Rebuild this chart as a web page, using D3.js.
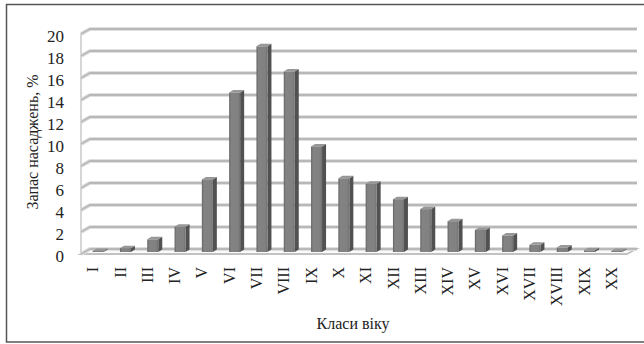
<!DOCTYPE html>
<html>
<head>
<meta charset="utf-8">
<script src="https://cdn.jsdelivr.net/npm/d3@7/dist/d3.min.js"></script>
<style>
  html, body { margin: 0; padding: 0; background: #fff; }
  svg { display: block; }
</style>
</head>
<body>
<svg id="chart" width="644" height="344"></svg>
<script>
// Age classes and share of growing stock (%)
const classes = ["I","II","III","IV","V","VI","VII","VIII","IX","X",
                 "XI","XII","XIII","XIV","XV","XVI","XVII","XVIII","XIX","XX"];
const stock = [0.1, 0.35, 1.15, 2.3, 6.6, 14.5, 18.7, 16.4, 9.6, 6.7,
               6.2, 4.8, 3.9, 2.8, 2.0, 1.5, 0.65, 0.4, 0.15, 0.1];
const yTicks = [0, 2, 4, 6, 8, 10, 12, 14, 16, 18, 20];
const yTitle = "Запас насаджень, %";
const xTitle = "Класи віку";

const FONT = "'Liberation Serif', 'Times New Roman', serif";
const svg = d3.select("#chart");

// frame
svg.append("rect")
  .attr("x", 6.5).attr("y", 4.5).attr("width", 660).attr("height", 337.5)
  .attr("fill", "none").attr("stroke", "#555").attr("stroke-width", 1.5);

// 3D box geometry: front plane and a depth offset towards the back wall
const depth = { dx: 9, dy: -5 };
const x = d3.scaleBand().domain(classes).range([81, 627]).paddingInner(0).paddingOuter(0);
const yFront = d3.scaleLinear().domain([0, 20]).range([254, 34]);
const yBack = v => yFront(v) + depth.dy;

const grid = svg.append("g");
const xL = x.range()[0], xR = x.range()[1];

// floor
grid.append("path")
  .attr("d", `M${xL},${yFront(0)} L${xL + depth.dx},${yBack(0)} L${xR + depth.dx},${yBack(0)} L${xR},${yFront(0)} Z`)
  .attr("fill", "#fbfbfb").attr("stroke", "#c2c2c2").attr("stroke-width", 2);

// left wall edge
grid.append("line")
  .attr("x1", xL).attr("x2", xL).attr("y1", yFront(20)).attr("y2", yFront(0))
  .attr("stroke", "#c8c8c8").attr("stroke-width", 1.5);

// gridlines on back and side walls
yTicks.forEach(t => {
  const pts = `${xL},${yFront(t)} ${xL + depth.dx},${yBack(t)} ${xR + depth.dx + 1},${yBack(t)}`;
  grid.append("polyline").attr("points", pts)
    .attr("fill", "none").attr("stroke", "#e0e0e0").attr("stroke-width", 4);
  grid.append("polyline").attr("points", pts)
    .attr("fill", "none").attr("stroke", "#b8b8b8").attr("stroke-width", 1.8);
});

// columns: front face sits a little behind the front plane
const faceShift = { dx: 3.5, dy: -2 };
const colDepth = { dx: 4, dy: -2.5 };
const faceW = 11;
const yFace = v => yFront(v) + faceShift.dy;

const defs = svg.append("defs");
const grad = defs.append("linearGradient").attr("id", "face").attr("x1", 0).attr("x2", 1);
grad.append("stop").attr("offset", "0%").attr("stop-color", "#646464");
grad.append("stop").attr("offset", "18%").attr("stop-color", "#838383");
grad.append("stop").attr("offset", "80%").attr("stop-color", "#818181");
grad.append("stop").attr("offset", "100%").attr("stop-color", "#707070");

const cols = svg.append("g").selectAll("g").data(classes).join("g");
cols.each(function(c, i) {
  const g = d3.select(this);
  const x0 = x(c) + x.bandwidth() / 2 + faceShift.dx - faceW / 2;
  const x1 = x0 + faceW;
  const yt = yFace(stock[i]);
  const yb = yFace(0);
  // right side
  g.append("path")
    .attr("d", `M${x1},${yt} L${x1 + colDepth.dx},${yt + colDepth.dy} L${x1 + colDepth.dx},${yb + colDepth.dy} L${x1},${yb} Z`)
    .attr("fill", "#515151");
  // top
  g.append("path")
    .attr("d", `M${x0},${yt} L${x0 + colDepth.dx},${yt + colDepth.dy} L${x1 + colDepth.dx},${yt + colDepth.dy} L${x1},${yt} Z`)
    .attr("fill", "#979797");
  // front
  g.append("rect")
    .attr("x", x0).attr("y", yt).attr("width", faceW).attr("height", Math.max(0, yb - yt))
    .attr("fill", "url(#face)");
});

// value axis
const yAxis = svg.append("g")
  .attr("transform", `translate(${xL},2)`)
  .call(d3.axisLeft(yFront).tickValues(yTicks).tickSize(0).tickPadding(17).tickFormat(d3.format("d")));
yAxis.attr("font-family", null).attr("font-size", null);
yAxis.select(".domain").remove();
yAxis.selectAll("text").style("font-size", "17px").style("font-family", FONT).attr("fill", "#222");

// category axis with vertical labels
const xAxis = svg.append("g")
  .attr("transform", `translate(0,${yFront(0)})`)
  .call(d3.axisBottom(x).tickSize(0).tickPadding(0));
xAxis.attr("font-family", null).attr("font-size", null);
xAxis.select(".domain").remove();
xAxis.selectAll("text")
  .style("font-size", "16px").style("font-family", FONT).attr("fill", "#222")
  .attr("text-anchor", "end")
  .attr("transform", "translate(-2,13) rotate(-90)")
  .attr("x", 0).attr("y", 0).attr("dy", "0.35em");

// axis titles
svg.append("text")
  .attr("transform", "translate(32,142) rotate(-90)")
  .attr("text-anchor", "middle").attr("dy", "0.35em")
  .style("font-size", "16px").style("font-family", FONT).attr("fill", "#222")
  .text(yTitle);
svg.append("text")
  .attr("x", 353).attr("y", 323).attr("text-anchor", "middle").attr("dy", "0.35em")
  .style("font-size", "16px").style("font-family", FONT).attr("fill", "#222")
  .text(xTitle);
</script>
</body>
</html>
